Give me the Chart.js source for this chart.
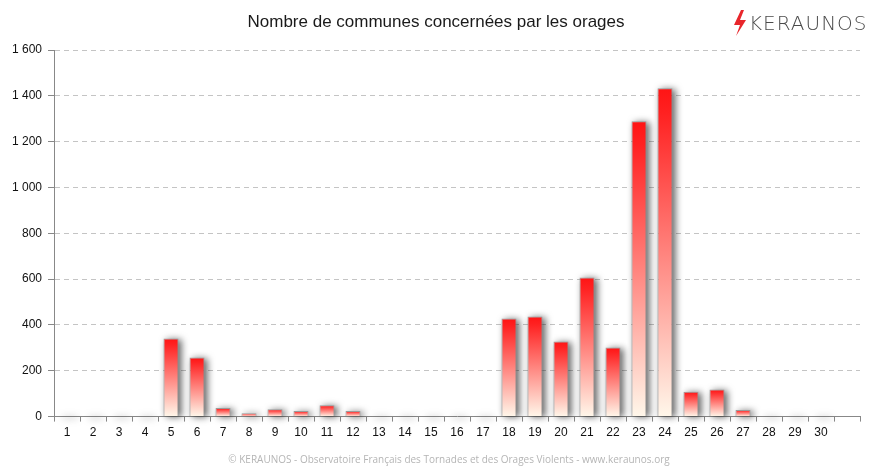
<!DOCTYPE html>
<html>
<head>
<meta charset="utf-8">
<script src="https://cdn.jsdelivr.net/npm/chart.js@4/dist/chart.umd.min.js"></script>
<style>
  html, body { margin: 0; padding: 0; background: #fff; }
  #wrap { width: 874px; height: 472px; }
</style>
</head>
<body>
<div id="wrap"><canvas id="myChart" width="874" height="472"></canvas></div>
<script>
// jours du mois (31e jour sans étiquette)
const days = ["1","2","3","4","5","6","7","8","9","10","11","12","13","14","15",
              "16","17","18","19","20","21","22","23","24","25","26","27","28","29","30",""];
// nombre de communes touchées par jour
const communes = [2, 2, 2, 2, 341, 258, 37, 15, 32, 24, 50, 24, 2, 2, 2,
                  2, 2, 428, 437, 328, 607, 302, 1289, 1433, 109, 118, 29, 2, 2, 2, null];
const yTicks = [0, 200, 400, 600, 800, 1000, 1200, 1400, 1600];

const titleText = "Nombre de communes concernées par les orages";
const footerText = "© KERAUNOS - Observatoire Français des Tornades et des Orages Violents - www.keraunos.org";

function fmt(v) {
    return String(v).replace(/\B(?=(\d{3})+(?!\d))/g, " ");
}

// dégradé rouge -> crème, propre à chaque barre
function barGradient(context) {
    const chart = context.chart;
    const v = context.raw;
    if (!chart.chartArea || v == null) return "#ff2020";
    const y = chart.scales.y.getPixelForValue(v);
    const base = chart.scales.y.getPixelForValue(0);
    if (Math.abs(base - y) < 1) return "#fff3e4";
    const g = chart.ctx.createLinearGradient(0, y, 0, base);
    g.addColorStop(0, "#ff1414");
    g.addColorStop(0.08, "#ff2222");
    g.addColorStop(1, "#fff7ea");
    return g;
}

// ombre floue derrière chaque barre (la bordure Chart.js est découpée, donc on la dessine à part)
const shadowPlugin = {
    id: "barShadow",
    beforeDatasetsDraw(chart) {
        const ctx = chart.ctx;
        const meta = chart.getDatasetMeta(0);
        const shift = 2000;
        ctx.save();
        ctx.fillStyle = "#000";
        ctx.shadowColor = "rgba(0,0,0,0.6)";
        ctx.shadowBlur = 7;
        ctx.shadowOffsetX = shift + 3;
        ctx.shadowOffsetY = 1;
        meta.data.forEach((bar, i) => {
            if (communes[i] == null) return;
            const p = bar.getProps(["x", "y", "base", "width"], true);
            const left = p.x - p.width / 2;
            const top = Math.min(p.y, p.base);
            const h = Math.abs(p.base - p.y);
            ctx.fillRect(left - shift, top, p.width, Math.max(h, 1));
        });
        ctx.restore();
    }
};

const textPlugin = {
    id: "texts",
    afterDraw(chart) {
        const ctx = chart.ctx;
        ctx.save();
        // titre
        ctx.fillStyle = "#1a1a1a";
        ctx.font = "17px 'Liberation Sans', Arial, sans-serif";
        ctx.textAlign = "center";
        ctx.textBaseline = "middle";
        ctx.fillText(titleText, 436, 22);

        // pied de page
        ctx.fillStyle = "#b5b5b5";
        ctx.font = "10px 'Open Sans', sans-serif";
        ctx.fillText(footerText, 449, 460);

        // logo : éclair + KERAUNOS
        ctx.fillStyle = "#e8262b";
        ctx.beginPath();
        ctx.moveTo(741, 10);
        ctx.lineTo(734, 25);
        ctx.lineTo(740, 25);
        ctx.lineTo(736, 36);
        ctx.lineTo(746, 20);
        ctx.lineTo(740, 20);
        ctx.lineTo(744, 10);
        ctx.closePath();
        ctx.fill();

        ctx.fillStyle = "#4a4a4a";
        ctx.font = "300 20px 'DejaVu Sans', sans-serif";
        ctx.textAlign = "left";
        ctx.textBaseline = "alphabetic";
        if ("letterSpacing" in ctx) ctx.letterSpacing = "1px";
        ctx.fillText("KERAUNOS", 749, 30);
        ctx.restore();
    }
};

document.addEventListener("DOMContentLoaded", function () {
    const ctx = document.getElementById("myChart");
    if (!ctx) {
        console.error("Canvas element not found!");
        return;
    }

    new Chart(ctx, {
        type: "bar",
        data: {
            labels: days,
            datasets: [
                {
                    label: "Communes",
                    data: communes,
                    backgroundColor: barGradient,
                    borderColor: "#9a9a9a",
                    borderWidth: 1,
                    borderSkipped: "bottom",
                    categoryPercentage: 1,
                    barPercentage: 0.58,
                },
            ],
        },
        plugins: [shadowPlugin, textPlugin],
        options: {
            responsive: false,
            animation: false,
            devicePixelRatio: 1,
            layout: { padding: { top: 50, right: 14, bottom: 28, left: 6 } },
            plugins: {
                legend: { display: false },
                title: { display: false },
                tooltip: { enabled: false },
            },
            scales: {
                x: {
                    offset: true,
                    grid: {
                        offset: true,
                        drawOnChartArea: false,
                        drawTicks: true,
                        tickLength: 5,
                        color: "#888",
                    },
                    border: { color: "#888", width: 1 },
                    ticks: {
                        color: "#111",
                        font: { family: "'Liberation Sans', Arial", size: 12 },
                        maxRotation: 0,
                        autoSkip: false,
                        padding: 4,
                    },
                },
                y: {
                    min: 0,
                    max: 1600,
                    afterBuildTicks(axis) {
                        axis.ticks = yTicks.map(v => ({ value: v }));
                    },
                    grid: {
                        color: "#c4c4c4",
                        tickColor: "#888",
                        tickLength: 6,
                    },
                    border: { color: "#888", width: 1, dash: [5, 4] },
                    ticks: {
                        color: "#111",
                        font: { family: "'Liberation Sans', Arial", size: 12 },
                        padding: 6,
                        callback: v => fmt(v),
                    },
                },
            },
        },
    });
});
</script>
</body>
</html>
